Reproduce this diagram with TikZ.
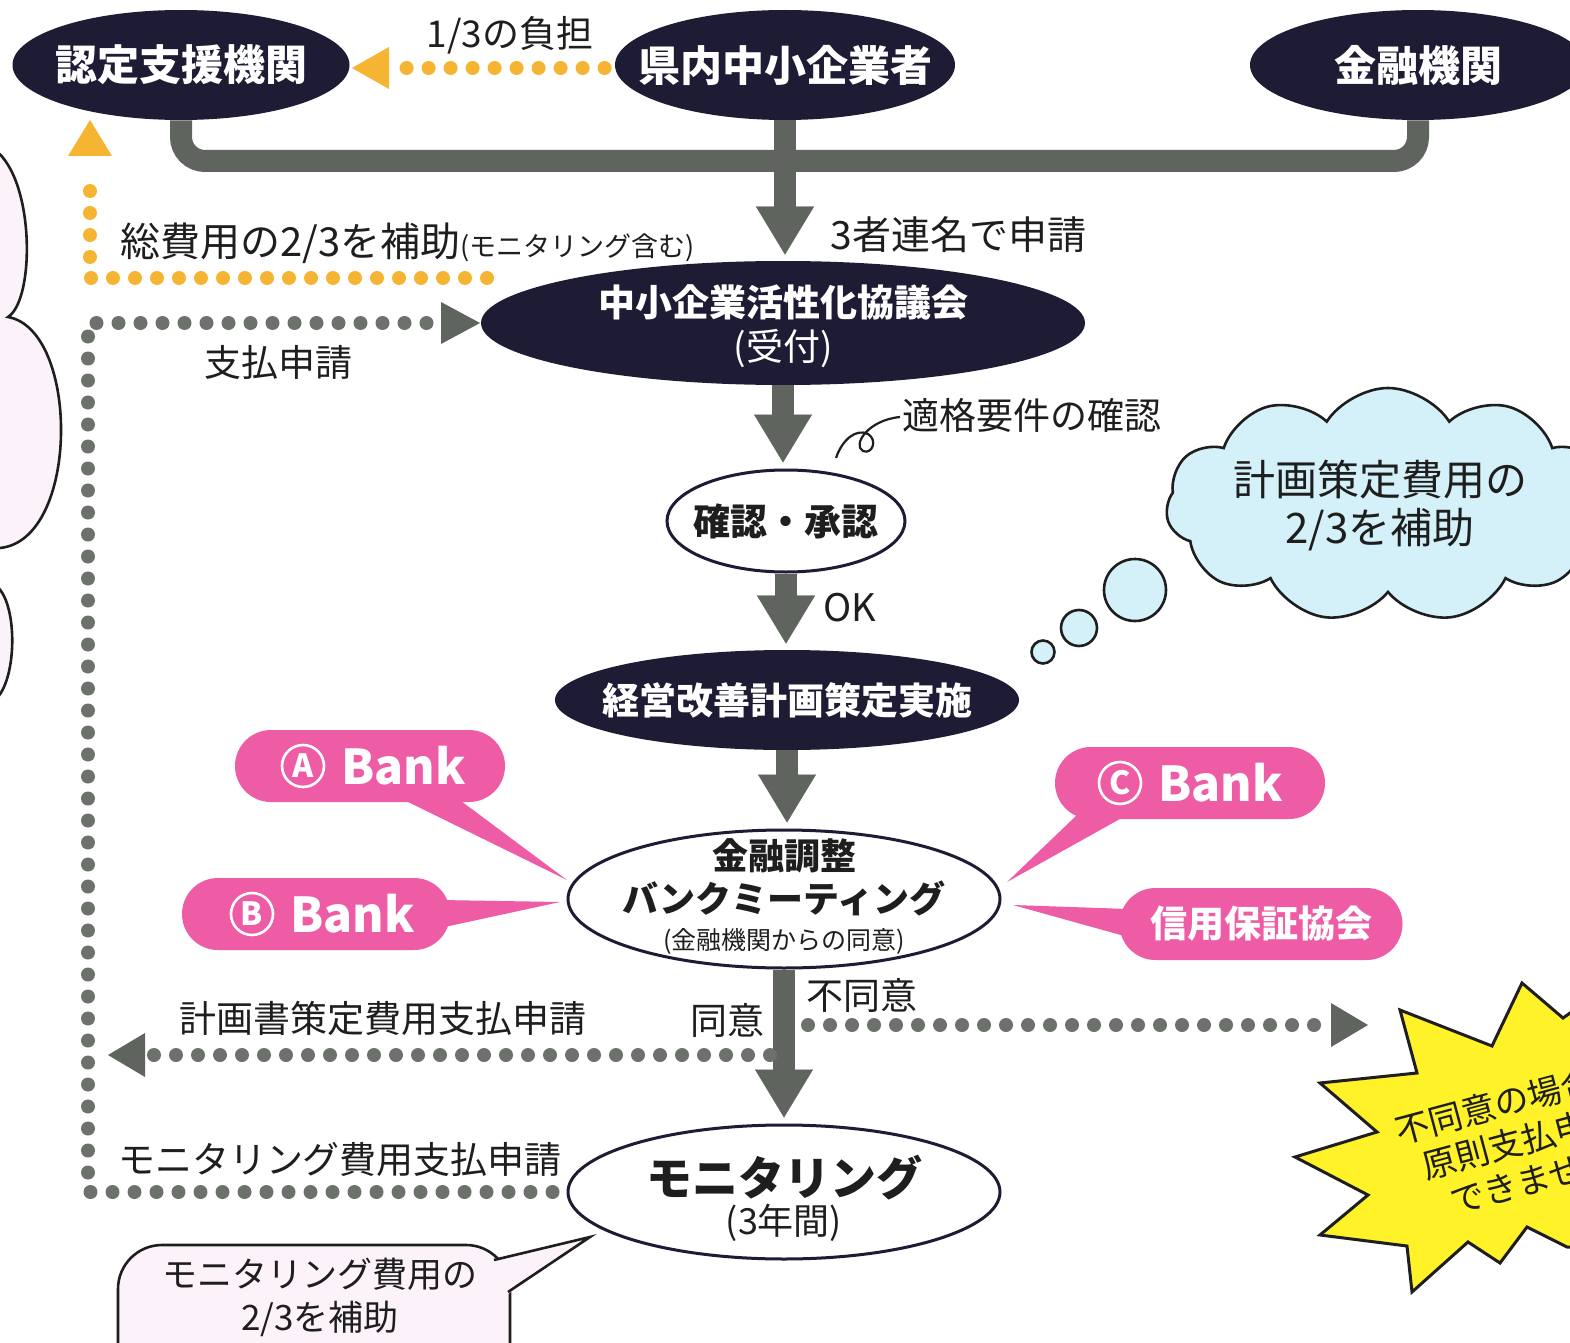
\documentclass[tikz,border=0pt]{standalone}
\usepackage{fontspec}
\setmainfont{Noto Sans CJK JP}
\usetikzlibrary{shapes.geometric,shapes.symbols,arrows.meta}
\definecolor{navy}{RGB}{30,28,52}
\definecolor{garrow}{RGB}{95,101,94}
\definecolor{gdot}{RGB}{108,113,108}
\definecolor{ydot}{RGB}{245,180,50}
\definecolor{pinkc}{RGB}{238,92,166}
\definecolor{lblue}{RGB}{212,240,248}
\definecolor{lpink}{RGB}{252,243,250}
\definecolor{stary}{RGB}{255,242,40}
\definecolor{ink}{RGB}{30,30,30}
\tikzset{
 darkell/.style={ellipse, fill=navy, inner sep=0pt},
 whiteell/.style={ellipse, draw=navy, line width=1.5pt, fill=white, inner sep=0pt},
 wtxt/.style={text=white, inner sep=0pt, align=center},
 btxt/.style={text=ink, inner sep=0pt, align=center},
 thickline/.style={draw=garrow, line width=11pt},
 thickarrow/.style={draw=garrow, line width=11pt, -{Triangle[width=29pt,length=24pt,line width=0.1pt]}, shorten >=3pt},
 gdots/.style={draw=gdot, line width=7pt, line cap=round, dash pattern=on 0pt off 11pt},
 ydots/.style={draw=ydot, line width=7pt, line cap=round, dash pattern=on 0pt off 11pt},
 lbl/.style={text=ink, inner sep=0pt, font=\fontsize{18.5}{22}\selectfont},
 pill/.style={rectangle, rounded corners=18pt, fill=pinkc, inner sep=0pt, minimum height=36pt},
 circlet/.style={circle, draw=white, line width=1.3pt, minimum size=21pt, inner sep=0pt, text=white, font=\bfseries\fontsize{16}{16}\selectfont},
 banktxt/.style={text=white, inner sep=0pt, font=\bfseries\fontsize{24}{28}\selectfont},
 outline/.style={draw=ink, line width=1.3pt},
}
\begin{document}
\begin{tikzpicture}[x=0.5pt,y=-0.5pt]
\useasboundingbox (0,0) rectangle (1570,1343);
\fill[white] (0,0) rectangle (1570,1343);
\clip (0,0) rectangle (1570,1343);

% left cloud (cut off)
\fill[lpink] (-20,150) -- (-5,150) .. controls (35,180) and (35,300) .. (8,317)
  .. controls (80,330) and (80,540) .. (0,548) -- (-20,548) -- cycle;
\fill[lpink] (-20,585) -- (-5,585) .. controls (18,600) and (18,680) .. (-5,700) -- (-20,700) -- cycle;
\draw[outline] (-5,150) .. controls (35,180) and (35,300) .. (8,317)
  .. controls (80,330) and (80,540) .. (0,548);
\draw[outline] (-5,585) .. controls (18,600) and (18,680) .. (-5,700);

% main nodes (shapes)
\node[darkell, minimum width=168.5pt, minimum height=55pt] (nintei) at (181,65) {};
\node[darkell, minimum width=170pt, minimum height=55pt] (ken) at (785,65) {};
\node[darkell, minimum width=168pt, minimum height=55pt] (kinyu) at (1418,65) {};
\node[darkell, minimum width=302pt, minimum height=62pt] (kyogi) at (783,323) {};
\node[whiteell, minimum width=119pt, minimum height=51pt] (kakunin) at (786,521) {};
\node[darkell, minimum width=232pt, minimum height=50pt] (keiei) at (787,700) {};
\node[whiteell, minimum width=216pt, minimum height=69pt] (kinyuc) at (784,899) {};
\node[whiteell, minimum width=216pt, minimum height=67pt] (moni) at (784,1192) {};
% main node texts
\node[wtxt, font=\bfseries\fontsize{21}{25}\selectfont] (nintei-t) at (nintei) {認定支援機関};
\node[wtxt, font=\bfseries\fontsize{21}{25}\selectfont] (ken-t) at (ken) {県内中小企業者};
\node[wtxt, font=\bfseries\fontsize{21}{25}\selectfont] (kinyu-t) at (kinyu) {金融機関};
\node[wtxt, font=\fontsize{18.5}{22}\selectfont] (kyogi-t) at (783,326) {\bfseries 中小企業活性化協議会\\(受付)};
\node[btxt, font=\bfseries\fontsize{18.5}{22}\selectfont] (kakunin-t) at (kakunin) {確認・承認};
\node[wtxt, font=\bfseries\fontsize{18.5}{22}\selectfont] (keiei-t) at (keiei) {経営改善計画策定実施};
\node[btxt, font=\bfseries\fontsize{18}{21.5}\selectfont] (kinyuc-t) at (784,896) {金融調整\\バンクミーティング\\[-3pt]{\mdseries\fontsize{12.5}{15}\selectfont(金融機関からの同意)}};
\node[btxt] (moni-t) at (784,1198) {{\bfseries\fontsize{23}{25}\selectfont モニタリング}\\[1pt]{\fontsize{18}{20}\selectfont(3年間)}};

% thick gray connectors
\draw[thickline, rounded corners=12pt] (nintei.south) -- (nintei.south |- 0,161) -- (kinyu.south |- 0,161) -- (kinyu.south);
\draw[thickarrow] (ken.south) -- (ken.south |- kyogi.north);
\draw[thickarrow] (kyogi.south) -- (kyogi.south |- kakunin.north);
\draw[thickarrow] (kakunin.south) -- (kakunin.south |- keiei.north);
\draw[thickarrow] (keiei.south) -- (keiei.south |- kinyuc.north);
\draw[thickarrow] (kinyuc.south) -- (kinyuc.south |- moni.north);

% yellow dotted: ken -> nintei
\draw[ydots] ([xshift=-5pt]ken.west |- 0,68) -- (398,68);
\fill[ydot] (352,68) -- (389,47) -- (389,89) -- cycle;
% yellow dotted: kyogi -> nintei
\coordinate (ys) at (487,278);
\coordinate (yc) at (90,278);
\coordinate (yt) at (90,172);
\draw[ydots] (ys) -- (yc) -- (yt);
\fill[ydot] (90,120) -- (68,156) -- (112,156) -- cycle;

% gray dotted: moni -> kyogi (payment request)
\coordinate (lb) at (88,1192);
\coordinate (lt) at (88,323);
\draw[gdots] ([xshift=-7pt]moni.west) -- (lb) -- (lt) -- (432,323);
\fill[garrow] (480,323) -- (441,302) -- (441,344) -- cycle;

% gray dotted: agree -> left
\coordinate (agreeL) at (770,1055);
\coordinate (agreeE) at (152,1055);
\draw[gdots] (agreeL) -- (agreeE);
\fill[garrow] (108,1055) -- (145,1033) -- (145,1077) -- cycle;
% gray dotted: disagree -> right
\coordinate (disS) at (808,1025);
\coordinate (disE) at (1322,1025);
\draw[gdots] (disS) -- (disE);
\fill[garrow] (1368,1025) -- (1331,1003) -- (1331,1047) -- cycle;

% labels
\node[lbl, font=\fontsize{18.5}{22}\selectfont] (futan) at (510,35) {1/3の負担};
\node[lbl, anchor=west, font=\fontsize{19.5}{24}\selectfont] (sansha) at (830,235) {3者連名で申請};
\node[lbl, anchor=west, font=\fontsize{20}{24}\selectfont] (sohiyo) at (120,243) {総費用の2/3を補助{\fontsize{13.5}{16}\selectfont(モニタリング含む)}};
\node[lbl] (shiharai) at (278,362) {支払申請};
\node[lbl, anchor=west] (tekikaku) at (902,415) {適格要件の確認};
\draw[draw=ink, line width=1.1pt] (836,458) .. controls (842,440) and (856,428) .. (868,434)
  .. controls (878,440) and (872,455) .. (863,451) .. controls (852,445) and (868,420) .. (900,417);
\node[lbl, anchor=west, font=\fontsize{19}{22}\selectfont] (okl) at (823,608) {OK};
\node[lbl] (keikakusho) at (383,1018) {計画書策定費用支払申請};
\node[lbl] (doui) at (727,1020) {同意};
\node[lbl] (fudoui) at (862,995) {不同意};
\node[lbl] (monishin) at (340,1160) {モニタリング費用支払申請};

% thought cloud
\node[cloud, cloud puffs=11, cloud puff arc=115, aspect=1.9, draw=ink, line width=1.3pt, fill=lblue, minimum width=222pt, minimum height=117pt, inner sep=0pt] (cloudR) at (1388,505) {};
\node[lbl, align=center, font=\fontsize{21}{24}\selectfont] (cloudRt) at (1380,506) {計画策定費用の\\2/3を補助};
\draw[outline, fill=lblue] (1135,590) circle[radius=31];
\draw[outline, fill=lblue] (1079,628) circle[radius=18];
\draw[outline, fill=lblue] (1043,652) circle[radius=11.5];

% pink callouts
\fill[pinkc] (400,798) -- (567,880) -- (457,798) -- cycle;
\node[pill, minimum width=135pt] (bA) at (370,766) {};
\node[circlet] (bAc) at (303,766) {A};
\node[banktxt, anchor=west] (bAt) at (341,766) {Bank};

\fill[pinkc] (440,900) -- (560,902) -- (440,928) -- cycle;
\node[pill, minimum width=134pt] (bB) at (316,914) {};
\node[circlet] (bBc) at (252,914) {B};
\node[banktxt, anchor=west] (bBt) at (290,914) {Bank};

\fill[pinkc] (1077,815) -- (1007,882) -- (1127,815) -- cycle;
\node[pill, minimum width=135pt] (bC) at (1190,783) {};
\node[circlet] (bCc) at (1120,783) {C};
\node[banktxt, anchor=west] (bCt) at (1158,783) {Bank};

\fill[pinkc] (1128,909) -- (1013,905) -- (1128,937) -- cycle;
\node[pill, minimum width=141.5pt, text=white, font=\bfseries\fontsize{18.5}{22}\selectfont] (bS) at (1261,924) {信用保証協会};

% starburst
\draw[draw=ink, line width=1.5pt, fill=stary, line join=miter]
 (1400,1010) -- (1492,1046) -- (1522,983) -- (1563,1018) -- (1610,985) -- (1610,1250)
 -- (1567,1247) -- (1527,1227) -- (1500,1263) -- (1468,1242) -- (1412,1292) -- (1407,1246)
 -- (1320,1235) -- (1368,1195) -- (1295,1157) -- (1377,1132) -- (1320,1083) -- (1417,1073) -- cycle;
\node[lbl, align=center, rotate=15, font=\fontsize{17}{20.5}\selectfont] (starT) at (1522,1140) {不同意の場合は\\原則支払申請\\できません};

% bottom-left speech bubble
\draw[outline, fill=lpink, rounded corners=22pt] (118,1400) -- (118,1245) -- (510,1245) -- (510,1400);
\fill[lpink] (484,1262) -- (590,1237) -- (505,1296) -- (484,1296) -- cycle;
\draw[outline, line join=miter] (494,1260) -- (590,1237) -- (508,1292);
\node[lbl, align=center, font=\fontsize{17.5}{21.5}\selectfont] (bubT) at (320,1297) {モニタリング費用の\\2/3を補助};
\end{tikzpicture}
\end{document}
